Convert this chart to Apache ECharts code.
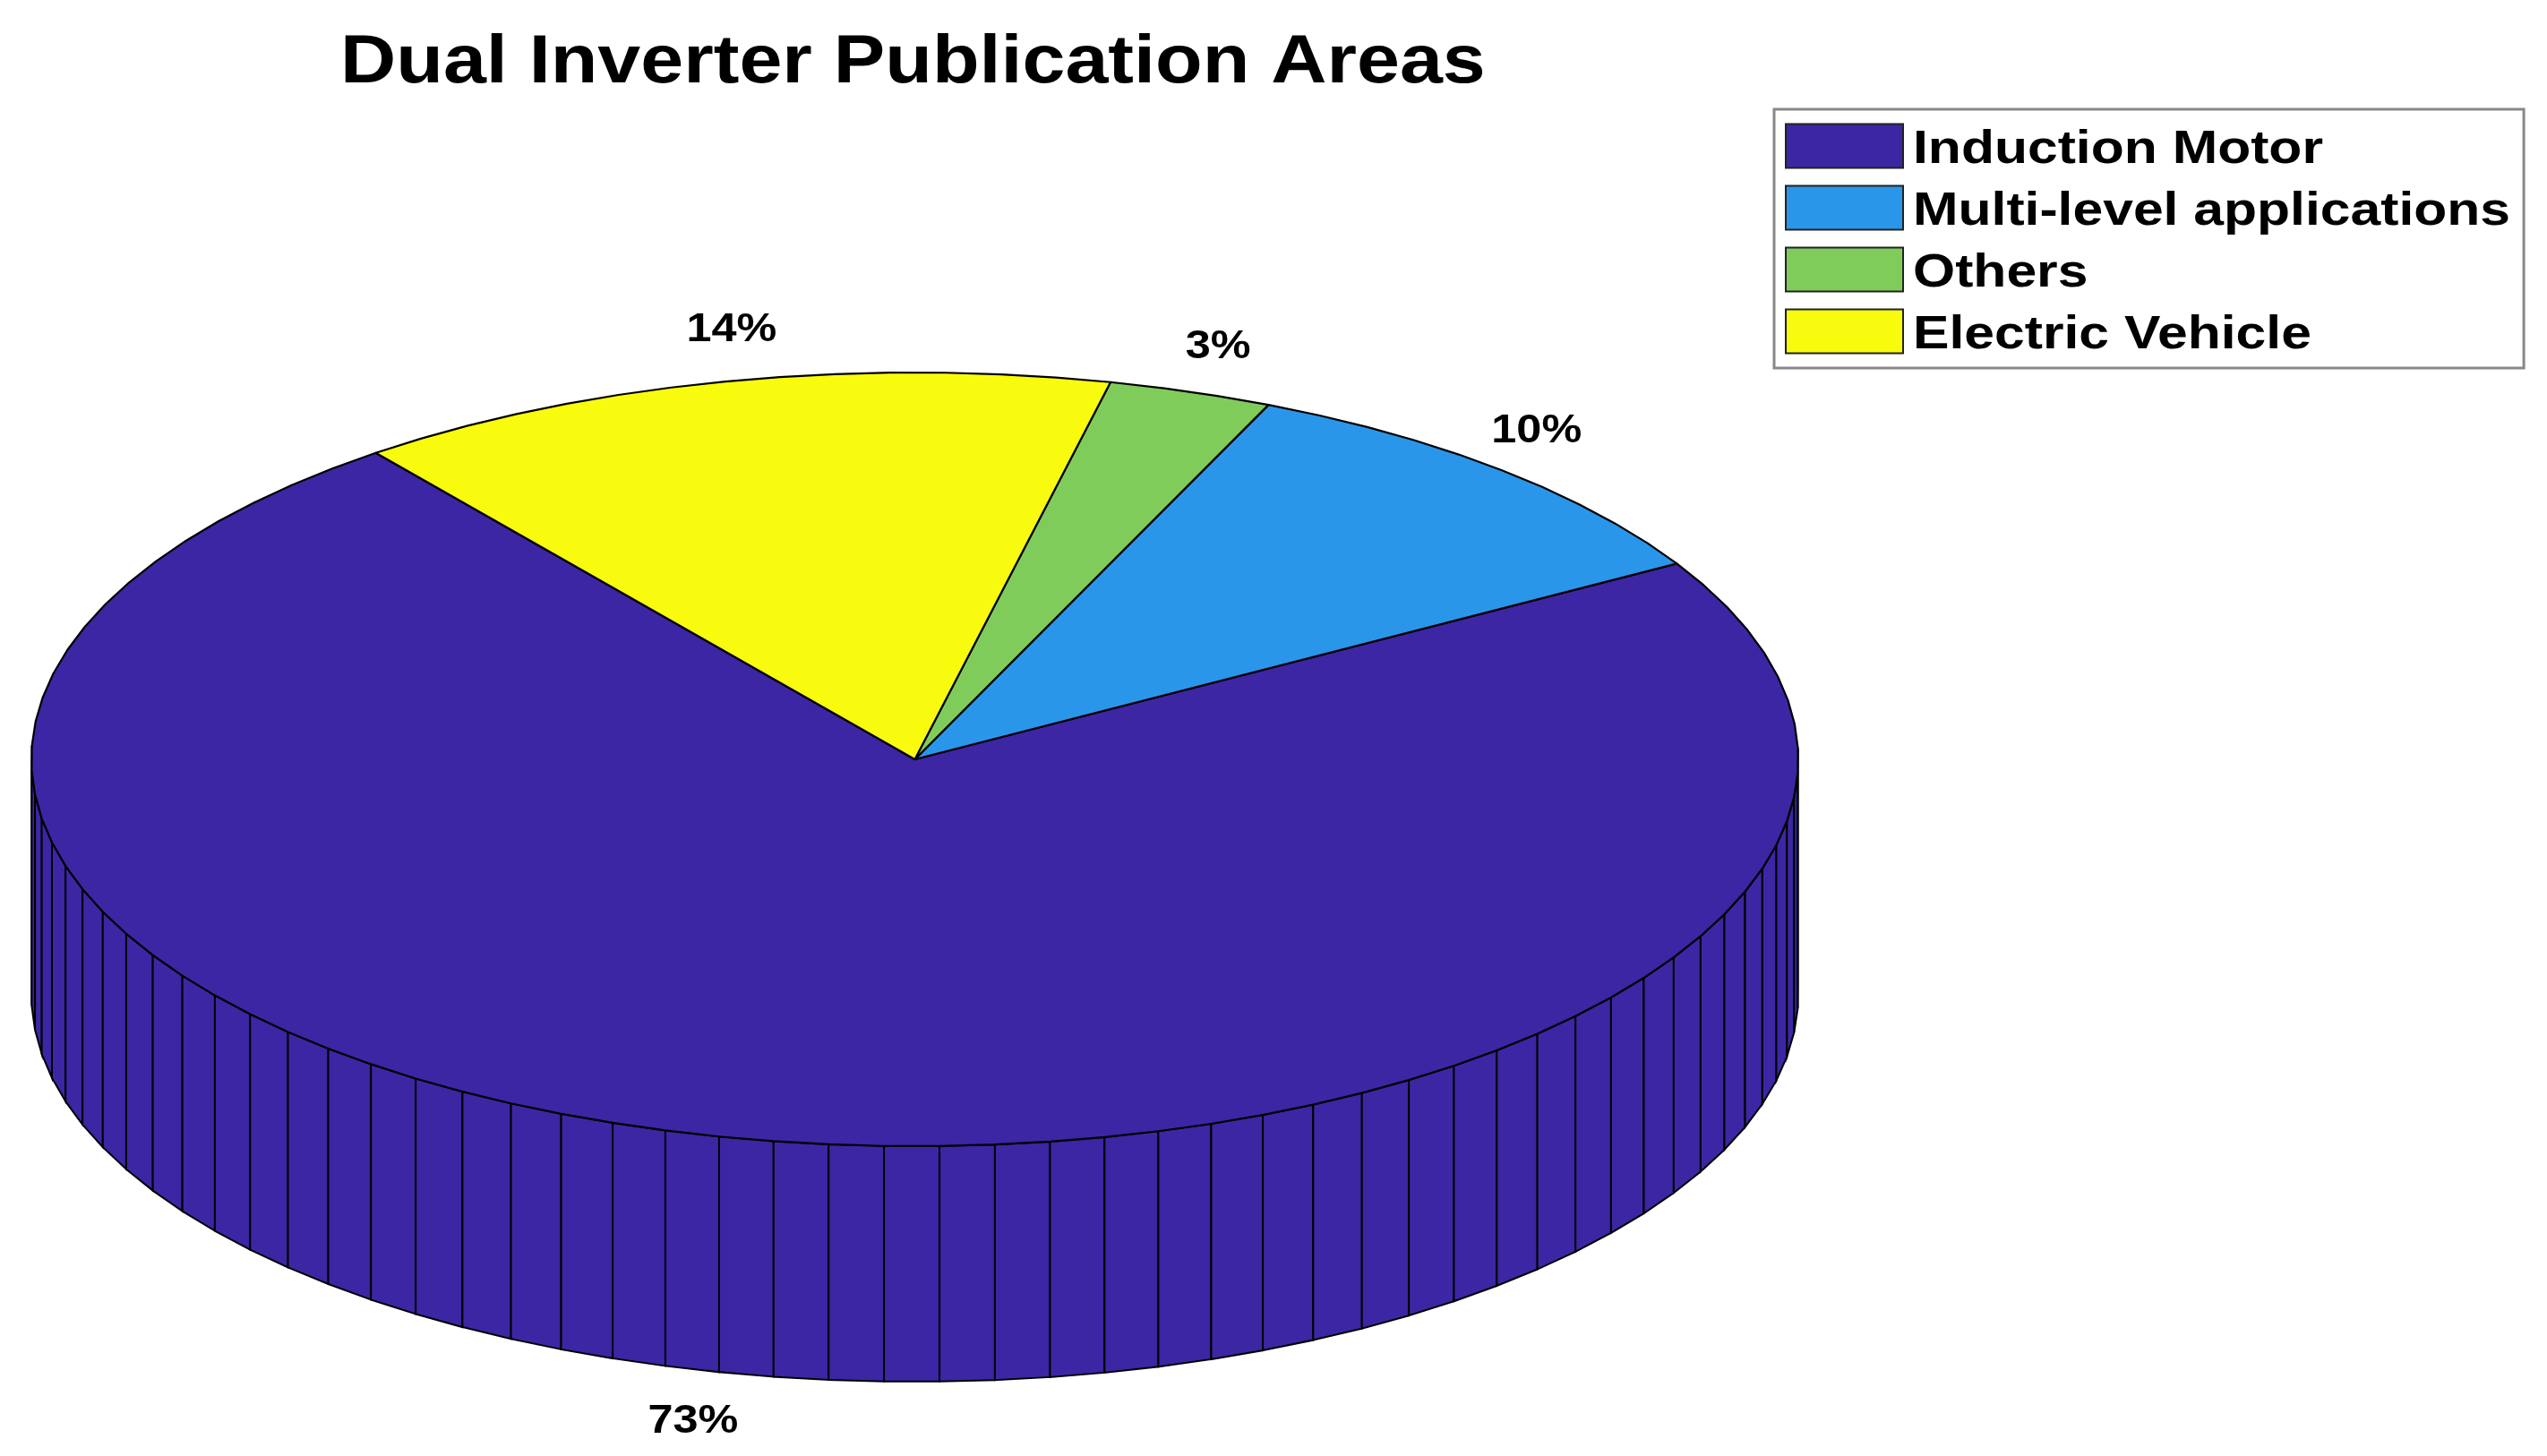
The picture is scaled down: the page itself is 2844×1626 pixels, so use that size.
<!DOCTYPE html>
<html>
<head>
<meta charset="utf-8">
<style>html,body{margin:0;padding:0;background:#fff}#c{width:2844px;height:1626px}</style>
<script src="https://cdn.jsdelivr.net/npm/echarts@6/dist/echarts.min.js"></script>
</head>
<body>
<div id="c"></div>
<script>
const titleText = 'Dual Inverter Publication Areas';
const categories = ['Induction Motor', 'Multi-level applications', 'Others', 'Electric Vehicle'];
const values = [73, 10, 3, 14];
const colors = ['#3C26A4', '#2A96EA', '#80CC5A', '#F9FB0E'];
const startAngleDeg = 127.6;      // where the first slice starts, counter-clockwise
const wallDepth = 263 / 432;      // wall height, in units of the ellipse's vertical radius
const labelNudge = [[-48, -7], [0, 2], [12, 7], [20, 2]];
const fontFamily = '"Liberation Sans", Arial, sans-serif';

// The reference's lettering is horizontally stretched; widen glyphs by font size.
const glyphStretch = { 76: 1.134, 52: 1.166, 45: 1.12 };
const glyphDrop = { 76: 0, 52: 5, 45: 0 };
const nativeFillText = CanvasRenderingContext2D.prototype.fillText;
CanvasRenderingContext2D.prototype.fillText = function (text, x, y, maxWidth) {
  const m = /(\d+(?:\.\d+)?)px/.exec(this.font);
  const size = m && Math.round(parseFloat(m[1]));
  const k = size && glyphStretch[size];
  if (!k) return nativeFillText.call(this, text, x, y, maxWidth);
  this.save();
  this.translate(x, y + glyphDrop[size]);
  this.scale(k, 1);
  nativeFillText.call(this, text, 0, 0);
  this.restore();
};

const total = values.reduce((a, b) => a + b, 0);
const rad = d => d * Math.PI / 180;

function sliceStart(i) {
  let s = startAngleDeg;
  for (let k = 0; k < i; k++) s += values[k] / total * 360;
  return s;
}

function makeRender(i) {
  return function (params, api) {
    const start = sliceStart(i);
    const sweep = api.value(0) / total * 360;
    const n = Math.max(1, Math.round(api.value(0)));
    const rim = [];
    for (let k = 0; k <= n; k++) rim.push(start + sweep * k / n);
    const top = a => api.coord([Math.cos(rad(a)), Math.sin(rad(a))]);
    const low = a => api.coord([Math.cos(rad(a)), Math.sin(rad(a)) - wallDepth]);
    const children = [];
    // front-facing wall facets
    for (let k = 0; k < n; k++) {
      const a = rim[k], b = rim[k + 1];
      if (Math.sin(rad(a)) > 0.02 && Math.sin(rad(b)) > 0.02) continue;
      children.push({
        type: 'polygon',
        shape: { points: [top(a), top(b), low(b), low(a)] },
        style: { fill: colors[i], stroke: '#000', lineWidth: 2 },
        silent: true
      });
    }
    // top face
    children.push({
      type: 'polygon',
      shape: { points: [api.coord([0, 0])].concat(rim.map(top)) },
      style: { fill: colors[i], stroke: '#000', lineWidth: 2.2, lineJoin: 'round' },
      silent: true
    });
    // percent label
    const mid = start + sweep / 2;
    const sn = Math.sin(rad(mid));
    const lp = api.coord([Math.cos(rad(mid)) * 1.06, sn * 1.14 - (sn < 0 ? wallDepth : 0)]);
    children.push({
      type: 'text',
      x: lp[0] + labelNudge[i][0],
      y: lp[1] + labelNudge[i][1],
      style: {
        text: Math.round(api.value(0) / total * 100) + '%',
        font: 'bold 45px ' + fontFamily,
        fill: '#000',
        align: 'center',
        verticalAlign: 'middle'
      },
      silent: true
    });
    return { type: 'group', children };
  };
}

const chart = echarts.init(document.getElementById('c'));
chart.setOption({
  animation: false,
  backgroundColor: '#fff',
  title: {
    text: titleText,
    left: 380,
    top: 33,
    padding: 0,
    textStyle: { fontFamily, fontWeight: 'bold', fontSize: 76, color: '#000' }
  },
  legend: {
    data: categories,
    orient: 'vertical',
    left: 1981,
    top: 122,
    padding: [15, 110, 15, 12],
    itemWidth: 131,
    itemHeight: 49,
    itemGap: 17,
    icon: 'rect',
    selectedMode: false,
    borderColor: '#888',
    borderWidth: 3,
    backgroundColor: '#fff',
    textStyle: { fontFamily, fontWeight: 'bold', fontSize: 52, lineHeight: 31, color: '#000', padding: [18, 0, 0, 6] }
  },
  grid: { left: 35, width: 1973, top: 416, height: 864 + 263, containLabel: false },
  xAxis: { type: 'value', min: -1, max: 1, show: false },
  yAxis: { type: 'value', min: -1 - wallDepth, max: 1, show: false },
  tooltip: { show: false },
  series: categories.map((name, i) => ({
    type: 'custom',
    name,
    coordinateSystem: 'cartesian2d',
    renderItem: makeRender(i),
    data: [[values[i]]],
    encode: { x: [], y: [] },
    itemStyle: { color: colors[i], borderColor: '#222', borderWidth: 2 },
    clip: false,
    silent: true
  }))
});
</script>
</body>
</html>
